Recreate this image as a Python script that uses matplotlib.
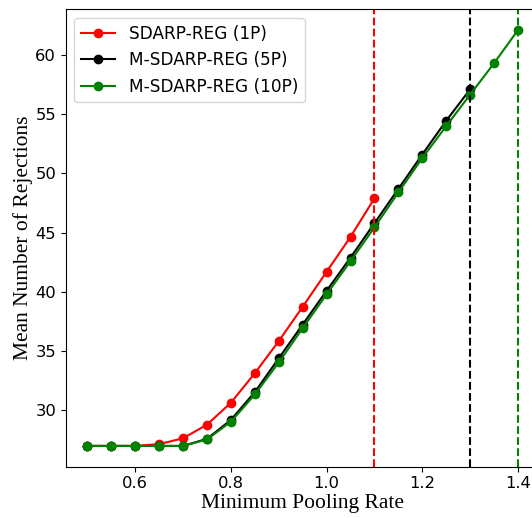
import numpy as np
import matplotlib.pyplot as plt

# minimum pooling rate values
x_1p = [0.5, 0.55, 0.6, 0.65, 0.7, 0.75, 0.8, 0.85, 0.9, 0.95, 1.0, 1.05, 1.1]
x_5p = x_1p + [1.15, 1.2, 1.25, 1.3]
x_10p = x_5p + [1.35, 1.4]

# mean number of rejections
rej_1p = [27.0, 27.0, 27.0, 27.15, 27.65, 28.8, 30.65, 33.15, 35.85, 38.75, 41.7, 44.65, 47.9]
rej_5p = [27.0, 27.0, 27.0, 27.0, 27.0, 27.6, 29.2, 31.55, 34.4, 37.25, 40.1, 42.9, 45.8,
          48.7, 51.6, 54.45, 57.1]
rej_10p = [27.0, 27.0, 27.0, 27.0, 27.0, 27.55, 29.05, 31.35, 34.05, 36.95, 39.8, 42.6, 45.45,
           48.4, 51.3, 54.0, 56.65, 59.3, 62.1]

# max feasible rate for each variant
limits = [1.1, 1.3, 1.4]
colors = ["red", "black", "green"]

fig = plt.figure(figsize=(5.32, 5.18), dpi=100)
ax = fig.add_axes([0.124, 0.099, 0.890, 0.883])

ax.plot(x_1p, rej_1p, marker="o", color="red", label="SDARP-REG (1P)")
ax.plot(x_5p, rej_5p, marker="o", color="black", label="M-SDARP-REG (5P)")
ax.plot(x_10p, rej_10p, marker="o", color="green", label="M-SDARP-REG (10P)")

for lim, c in zip(limits, colors):
    ax.axvline(lim, color=c, linestyle="--", linewidth=1.5)

ax.set_xlabel("Minimum Pooling Rate", family="Liberation Serif", fontsize=15.5, labelpad=2)
ax.set_ylabel("Mean Number of Rejections", family="Liberation Serif", fontsize=15.5, labelpad=2)
ax.tick_params(labelsize=11.8)
ax.legend(loc="upper left", fontsize=12.2)

fig.savefig("out.png", dpi=100)
